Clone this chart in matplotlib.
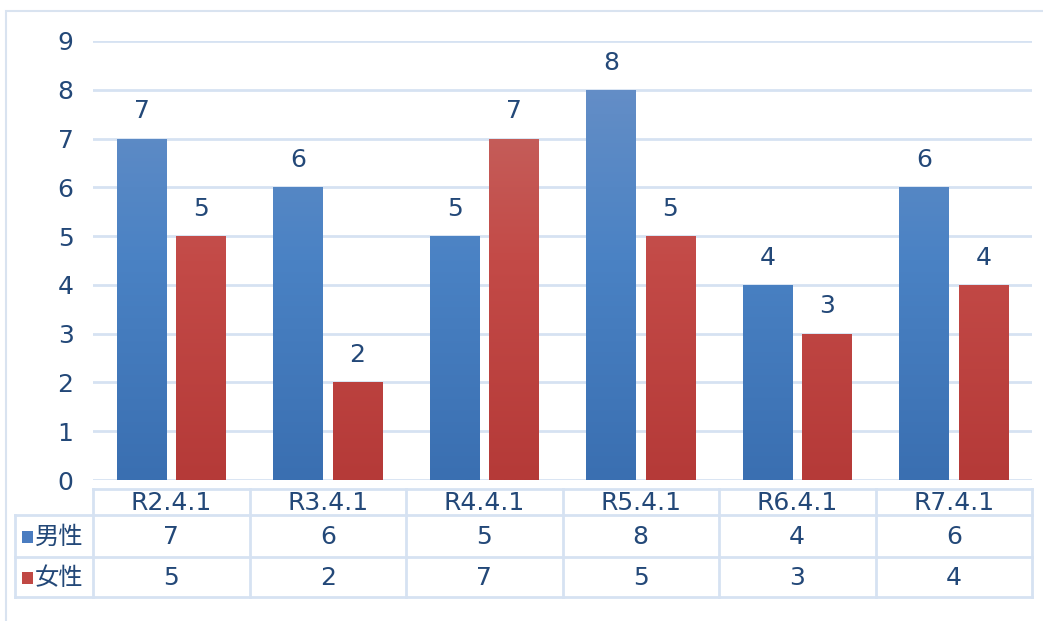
import numpy as np
import matplotlib
matplotlib.use("Agg")
import matplotlib.pyplot as plt
from matplotlib.patches import Rectangle
from matplotlib.colors import LinearSegmentedColormap
from matplotlib.transforms import blended_transform_factory

plt.rcParams['font.family'] = ['DejaVu Sans', 'Noto Sans CJK JP']

categories = ["R2.4.1", "R3.4.1", "R4.4.1", "R5.4.1", "R6.4.1", "R7.4.1"]
series_names = ["男性", "女性"]
male = [7, 6, 5, 8, 4, 6]
female = [5, 2, 7, 5, 3, 4]
yticks = [0, 1, 2, 3, 4, 5, 6, 7, 8, 9]

W, H = 1043, 621
fig = plt.figure(figsize=(W / 100, H / 100), dpi=100)
TXT = '#234878'
GRID = '#D6E2F2'
FS = 18

def fx(x):
    return x / W

def fy(y):
    return 1 - y / H

ax = fig.add_axes([fx(93), fy(480), fx(1032) - fx(93), fy(41) - fy(480)])
ax.set_xlim(-0.5, len(categories) - 0.5)
ax.set_ylim(0, 9)
ax.set_yticks(yticks)
ax.set_yticklabels([str(t) for t in yticks], fontsize=FS, color=TXT)
ax.tick_params(axis='y', length=0, pad=14)
ax.set_xticks([])
for s in ax.spines.values():
    s.set_visible(False)
ax.yaxis.grid(True, color=GRID, linewidth=2)
ax.set_axisbelow(True)

x = np.arange(len(categories))
bw = 0.315
off = 0.19
cm_blue = LinearSegmentedColormap.from_list('b', ['#3A6FB1', '#4A82C4', '#6B91C7'])
cm_red = LinearSegmentedColormap.from_list('r', ['#B53A38', '#C34A47', '#C66B67'])
grad = np.linspace(0, 1, 256).reshape(-1, 1)

def grad_bars(vals, xpos, cmap):
    bars = ax.bar(xpos, vals, width=bw, color='none', edgecolor='none', zorder=2)
    for b in bars:
        h = b.get_height()
        im = ax.imshow(grad, cmap=cmap, origin='lower', aspect='auto',
                       extent=[b.get_x(), b.get_x() + b.get_width(), 0, 9],
                       zorder=2)
        im.set_clip_path(b)
        ax.annotate(str(int(h)), (b.get_x() + b.get_width() / 2, h),
                    xytext=(0, 11), textcoords='offset points',
                    ha='center', va='bottom', fontsize=FS, color=TXT)
    return bars

grad_bars(male, x - off, cm_blue)
grad_bars(female, x + off, cm_red)
ax.set_xlim(-0.5, len(categories) - 0.5)
ax.set_ylim(0, 9)

# data table
tr = blended_transform_factory(ax.transData, fig.transFigure)
LW = 2
y_head, y_r1, y_r2, y_end = 489, 515, 557, 597
for i in range(len(categories) + 1):
    xb = -0.5 + i
    fig.add_artist(plt.Line2D([xb, xb], [fy(y_head), fy(y_end)], transform=tr,
                              color=GRID, lw=LW))
fig.add_artist(plt.Line2D([fx(15), fx(15)], [fy(y_r1), fy(y_end)],
                          transform=fig.transFigure, color=GRID, lw=LW))
fig.add_artist(plt.Line2D([fx(93), fx(1032)], [fy(y_head), fy(y_head)],
                          transform=fig.transFigure, color=GRID, lw=LW))
for yy in (y_r1, y_r2, y_end):
    fig.add_artist(plt.Line2D([fx(15), fx(1032)], [fy(yy), fy(yy)],
                              transform=fig.transFigure, color=GRID, lw=LW))

for i, c in enumerate(categories):
    fig.text(i, fy(503), c, transform=tr, ha='center', va='center',
             fontsize=FS, color=TXT)
    fig.text(i, fy(537), str(male[i]), transform=tr, ha='center', va='center',
             fontsize=FS, color=TXT)
    fig.text(i, fy(578), str(female[i]), transform=tr, ha='center', va='center',
             fontsize=FS, color=TXT)

for name, ycen, col in ((series_names[0], 537, '#4A7CC0'), (series_names[1], 578, '#C04844')):
    fig.add_artist(Rectangle((fx(22), fy(ycen + 6)), fx(11), fy(ycen - 6) - fy(ycen + 6),
                             transform=fig.transFigure, color=col, lw=0))
    fig.text(fx(35), fy(ycen), name, ha='left', va='center', fontsize=17.5,
             color=TXT, family=['Noto Sans CJK JP', 'DejaVu Sans'])

# outer border
fig.add_artist(Rectangle((fx(6), fy(640)), fx(1060) - fx(6), fy(11) - fy(640),
                         transform=fig.transFigure, fill=False,
                         edgecolor='#D9E3F0', lw=1.5))

fig.savefig('out.png', dpi=100)
